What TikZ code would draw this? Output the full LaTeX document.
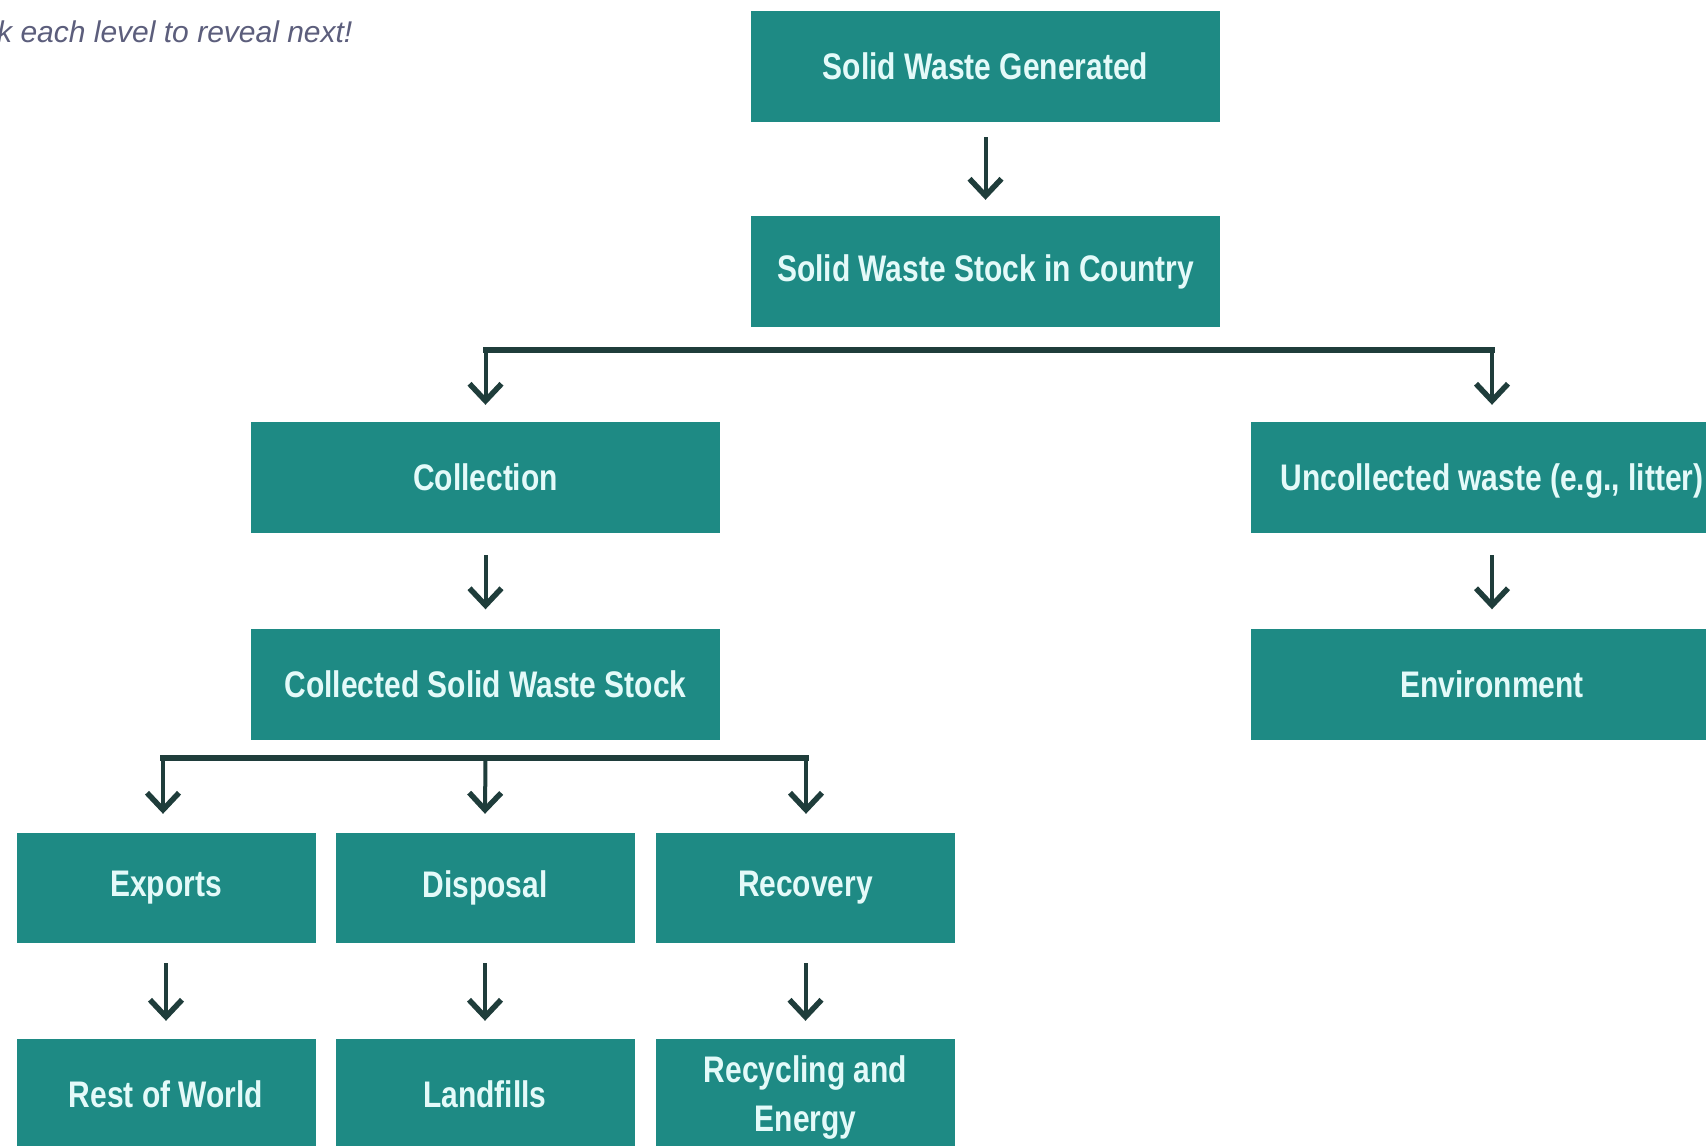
\documentclass[tikz,border=0pt]{standalone}
\usepackage{fontspec}
\usetikzlibrary{arrows.meta}
\newfontfamily\boxfont[FakeStretch=0.81]{Liberation Sans}
\newfontfamily\hintfont{Liberation Sans}
\definecolor{teal1}{HTML}{1E8A84}
\definecolor{boxtext}{HTML}{E4FAF9}
\definecolor{linedark}{HTML}{1F3D3B}
\definecolor{hintcol}{HTML}{5C5E7C}
\begin{document}
\begin{tikzpicture}[x=1pt,y=-1pt,
  flowbox/.style={rectangle,fill=teal1,text=boxtext,inner sep=0pt,
    minimum width=469pt,minimum height=111pt,align=center,
    font=\boxfont\bfseries\fontsize{37}{44}\selectfont},
  smallbox/.style={flowbox,minimum width=299pt,minimum height=110pt},
  arr/.style={draw=linedark,line width=4pt,
    -{Straight Barb[length=17pt,width=32pt,line width=5.5pt]}},
  busline/.style={draw=linedark,line width=5.5pt,line cap=rect}]
\useasboundingbox (0,0) rectangle (1706,1146);
\fill[white] (0,0) rectangle (1706,1146);

% hint text, clipped at the left edge
\node[anchor=base west,inner sep=0pt,text=hintcol,
  font=\hintfont\itshape\fontsize{30}{34}\selectfont] (hint) at (-3,42)
  {k each level to reveal next!};

% main column
\node[flowbox] (gen)   at (985.5,66.5) {Solid Waste Generated};
\node[flowbox] (stock) at (985.5,271.5) {Solid Waste Stock in Country};

% collected branch
\node[flowbox] (coll)  at (485.5,477.5) {Collection};
\node[flowbox] (cstock) at (485.5,684) {Collected Solid Waste Stock};

% uncollected branch
\node[flowbox,minimum width=482pt,text depth=0pt] (uncoll) at (1492,477.5) {Uncollected waste (e.g., litter)};
\node[flowbox,minimum width=482pt] (env)    at (1492,684) {Environment};

% destinations of collected waste
\node[smallbox] (exp)  at (166,888) {Exports};
\node[smallbox] (disp) at (485,888) {Disposal};
\node[smallbox] (rec)  at (805.5,888) {Recovery};
\node[smallbox] (row)  at (166,1094) {Rest of World};
\node[smallbox] (land) at (485,1094) {Landfills};
\node[smallbox,text depth=0pt] (recy) at (805.5,1094) {Recycling and\\[5pt]Energy};

% straight links
\draw[arr] ([yshift=-15pt]gen.south) -- ([yshift=16pt]stock.north);
\draw[arr] ([yshift=-22pt]coll.south) -- ([yshift=19pt]cstock.north);
\draw[arr] ([yshift=-22pt]uncoll.south) -- ([yshift=19pt]env.north);
\draw[arr] ([yshift=-20pt]exp.south) -- ([yshift=18pt]row.north);
\draw[arr] ([yshift=-20pt]disp.south) -- ([yshift=18pt]land.north);
\draw[arr] ([yshift=-20pt]rec.south) -- ([yshift=18pt]recy.north);

% first split
\coordinate (busAL) at (coll.north |- 0,350);
\coordinate (busAR) at (uncoll.north |- 0,350);
\draw[busline] (busAL) -- (busAR);
\draw[arr] (busAL) -- ([yshift=17pt]coll.north);
\draw[arr] (busAR) -- ([yshift=17pt]uncoll.north);

% second split
\coordinate (busBL) at (163,758);
\coordinate (busBM) at (cstock.south |- 0,758);
\coordinate (busBR) at (806,758);
\draw[busline] (busBL) -- (busBR);
\draw[arr] (busBL) -- ([yshift=19pt]busBL |- exp.north);
\draw[arr] (busBM) -- ([yshift=19pt]disp.north);
\draw[arr] (busBR) -- ([yshift=19pt]busBR |- rec.north);
\end{tikzpicture}
\end{document}
